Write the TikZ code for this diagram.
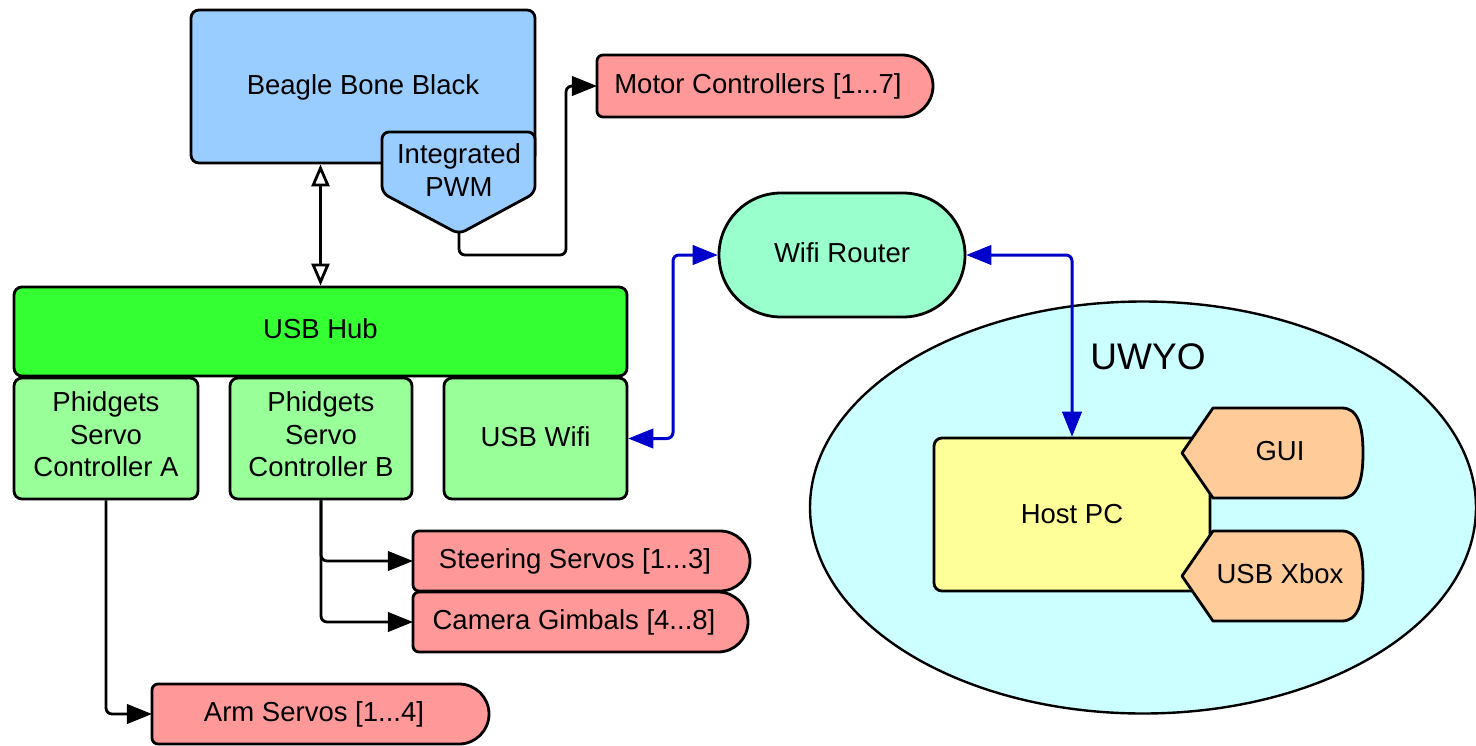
\documentclass[tikz,border=0pt]{standalone}
\usepackage{fontspec}
\setmainfont{Liberation Sans}
\usetikzlibrary{arrows.meta,shapes.geometric,shapes.misc}
\definecolor{bbbblue}{HTML}{99CCFF}
\definecolor{pinkred}{HTML}{FF9999}
\definecolor{routergreen}{HTML}{99FFCC}
\definecolor{hubgreen}{HTML}{33FF33}
\definecolor{phgreen}{HTML}{99FF99}
\definecolor{uwyocyan}{HTML}{CCFFFF}
\definecolor{hostyellow}{HTML}{FFFF99}
\definecolor{guiorange}{HTML}{FFCC99}
\definecolor{wireblue}{HTML}{0000CC}
\begin{document}
\begin{tikzpicture}[x=1pt,y=1pt,
  outl/.style={draw=black,line width=2.8pt,line join=round},
  txt/.style={font=\fontsize{27.5}{32.5}\selectfont, align=center, inner sep=0pt},
  box/.style={outl, rectangle, rounded corners=8pt, txt},
  shapename/.style={txt, rectangle},
  conn/.style={draw=black,line width=2.8pt,rounded corners=6pt},
  blueconn/.style={draw=wireblue,line width=3pt,rounded corners=6pt},
  blk/.tip={Triangle[length=25pt,width=20pt]},
  opn/.tip={Triangle[open,fill=white,length=22pt,width=18pt]},
  blu/.tip={Triangle[length=25pt,width=20pt]},
  tipk/.style={draw=black,line width=1pt,-blk},
  tipb/.style={draw=wireblue,line width=1pt,-blu}
]
\useasboundingbox (0,0) rectangle (1476,-745);
\fill[white] (0,0) rectangle (1476,-745);

% Beagle Bone Black and PWM
\node[box, fill=bbbblue, minimum width=344pt, minimum height=153pt, text depth=3pt] (bbb) at (363,-86.5) {Beagle Bone Black};
\draw[outl, fill=bbbblue, rounded corners=7pt] (382,-132) -- (535,-132) -- (535,-193) -- (459,-234) -- (382,-193) -- cycle;
\node[txt] (pwm) at (459,-170) {Integrated\\PWM};
\coordinate (pwmtip) at (459,-231);
\coordinate (pwmbend) at (566,-255);

% Motor controllers
\draw[outl, fill=pinkred] (902,-55) -- (603,-55) arc[start angle=90,end angle=180,radius=6pt] -- (597,-111) arc[start angle=180,end angle=270,radius=6pt] -- (902,-117) arc[start angle=-90,end angle=90,radius=31pt] -- cycle;
\node[shapename, minimum width=336pt, minimum height=62pt] (motor) at (765,-86) {\hspace*{-14pt}Motor Controllers [1...7]};

% Wifi router
\node[outl, rounded rectangle, fill=routergreen, minimum width=246pt, minimum height=124pt, txt, text depth=4pt] (router) at (842,-255) {Wifi Router};

% USB hub and controllers
\node[box, fill=hubgreen, minimum width=613pt, minimum height=89pt, text depth=6pt] (hub) at (320.5,-331.5) {USB Hub};
\node[box, fill=phgreen, minimum width=184pt, minimum height=121pt, text depth=8pt] (phA) at (106,-438.5) {Phidgets\\Servo\\Controller A};
\node[box, fill=phgreen, minimum width=182pt, minimum height=121pt, text depth=8pt] (phB) at (321,-438.5) {Phidgets\\Servo\\Controller B};
\node[box, fill=phgreen, minimum width=183pt, minimum height=121pt, text depth=4pt] (usbwifi) at (535.5,-438.5) {USB Wifi};

% Servo groups
\draw[outl, fill=pinkred] (720,-531) -- (419,-531) arc[start angle=90,end angle=180,radius=6pt] -- (413,-585) arc[start angle=180,end angle=270,radius=6pt] -- (720,-591) arc[start angle=-90,end angle=90,radius=30pt] -- cycle;
\node[shapename, minimum width=337pt, minimum height=60pt] (steer) at (581.5,-561) {\hspace*{-13pt}Steering Servos [1...3]};
\draw[outl, fill=pinkred] (718,-592) -- (419,-592) arc[start angle=90,end angle=180,radius=6pt] -- (413,-646) arc[start angle=180,end angle=270,radius=6pt] -- (718,-652) arc[start angle=-90,end angle=90,radius=30pt] -- cycle;
\node[shapename, minimum width=335pt, minimum height=60pt] (cam) at (580.5,-622) {\hspace*{-13pt}Camera Gimbals [4...8]};
\draw[outl, fill=pinkred] (459,-684) -- (158,-684) arc[start angle=90,end angle=180,radius=6pt] -- (152,-738) arc[start angle=180,end angle=270,radius=6pt] -- (459,-744) arc[start angle=-90,end angle=90,radius=30pt] -- cycle;
\node[shapename, minimum width=337pt, minimum height=60pt] (arm) at (320.5,-714) {\hspace*{-13pt}Arm Servos [1...4]};

% UWYO
\node[outl, ellipse, fill=uwyocyan, minimum width=666pt, minimum height=412pt, inner sep=0pt, line width=2.4pt] (uwyo) at (1143,-507.5) {};
\node[font=\fontsize{37}{44}\selectfont, inner sep=0pt] (uwyolabel) at (1148,-357) {UWYO};
\node[box, fill=hostyellow, minimum width=276pt, minimum height=153pt] (hostpc) at (1072,-514.5) {Host PC};
\draw[outl, fill=guiorange] (1213,-408) -- (1342,-408) .. controls (1358,-408) and (1363,-426) .. (1363,-453) .. controls (1363,-480) and (1358,-498) .. (1342,-498) -- (1213,-498) -- (1182,-453) -- cycle;
\node[txt] (gui) at (1280,-451) {GUI};
\draw[outl, fill=guiorange] (1213,-531) -- (1342,-531) .. controls (1358,-531) and (1363,-549) .. (1363,-576) .. controls (1363,-603) and (1358,-621) .. (1342,-621) -- (1213,-621) -- (1182,-576) -- cycle;
\node[txt] (xbox) at (1280,-574) {USB Xbox};

% Connectors
\draw[line width=2.8pt, opn-opn] (hub.north |- bbb.south) -- (hub.north);
\draw[conn, shorten >=10pt] (pwmtip) |- (pwmbend) |- (motor.west);
\draw[tipk] ([xshift=-27pt]motor.west) -- (motor.west);
\draw[conn, shorten >=10pt] (phA.south) |- (arm.west);
\draw[tipk] ([xshift=-27pt]arm.west) -- (arm.west);
\draw[conn, shorten >=10pt] (phB.south) |- (steer.west);
\draw[tipk] ([xshift=-27pt]steer.west) -- (steer.west);
\draw[conn, shorten >=10pt] (phB.south) |- (cam.west);
\draw[tipk] ([xshift=-27pt]cam.west) -- (cam.west);
\coordinate (wbend) at (673,-255);
\draw[blueconn, shorten <=10pt, shorten >=10pt] (usbwifi.east) -| (wbend) -- (router.west);
\draw[tipb] ([xshift=27pt]usbwifi.east) -- (usbwifi.east);
\draw[tipb] ([xshift=-27pt]router.west) -- (router.west);
\draw[blueconn, shorten <=10pt, shorten >=10pt] (router.east) -| (hostpc.north);
\draw[tipb] ([xshift=27pt]router.east) -- (router.east);
\draw[tipb] ([yshift=27pt]hostpc.north) -- (hostpc.north);
\end{tikzpicture}
\end{document}
